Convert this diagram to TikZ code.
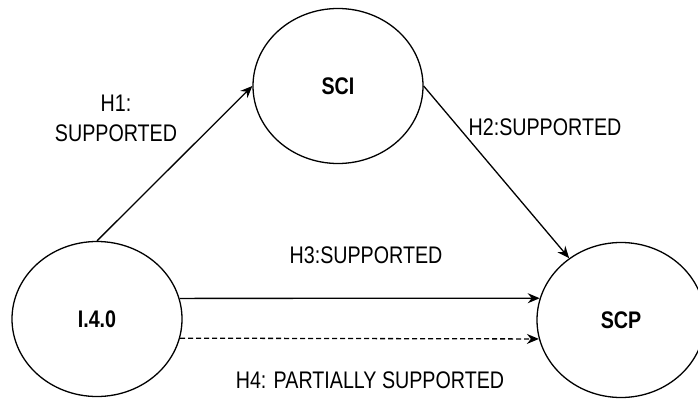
\documentclass[tikz,border=0pt]{standalone}
\usepackage{fontspec}
\setmainfont{Liberation Sans}[FakeStretch=0.82]
\usetikzlibrary{shapes.geometric,arrows.meta}
\begin{document}
\begin{tikzpicture}[x=1pt,y=-1pt,
  font=\fontsize{24}{30}\selectfont,
  construct/.style={draw, ellipse, line width=1.3pt, inner sep=0pt,
    minimum width=170pt, minimum height=155pt, font=\fontsize{24}{30}\selectfont\bfseries},
  link/.style={line width=1.3pt, -{Stealth[length=12pt,width=10pt,inset=4pt]}},
  weaklink/.style={link, dash pattern=on 5pt off 3pt},
  hyp/.style={inner sep=0pt, align=center}]
\useasboundingbox (0,0) rectangle (698,401);
\clip (0,0) rectangle (698,401);

% constructs
\node[construct] (SCI) at (338,86) {SCI};
\node[construct] (I40) at (97,319) {I.4.0};
\node[construct, minimum width=168pt] (SCP) at (621,320) {SCP};

% hypothesised paths
\draw[link] (I40.north) -- (SCI.west);
\draw[link] (SCI.east) -- (SCP.130);
\draw[link] (I40.14) -- (SCP.165);
\draw[weaklink] (I40.-13.7) -- (SCP.193);

% path labels
\node[hyp] (h1) at (116,118) {H1:\\SUPPORTED};
\node[hyp] (h2) at (545,127) {H2:SUPPORTED};
\node[hyp] (h3) at (366,255) {H3:SUPPORTED};
\node[hyp] (h4) at (370,380) {H4: PARTIALLY SUPPORTED};
\end{tikzpicture}
\end{document}
